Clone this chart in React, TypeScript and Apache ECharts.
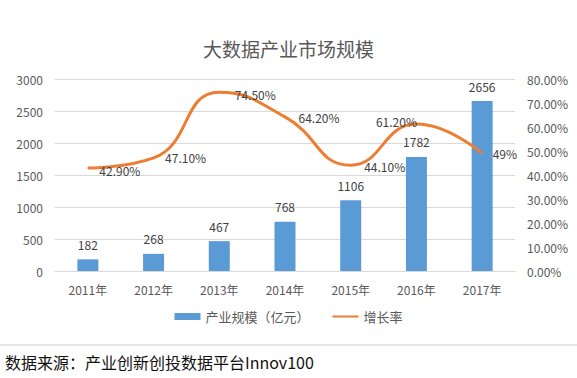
import React, { useEffect, useRef } from "react";
import * as echarts from "echarts";

const categories = ["2011年", "2012年", "2013年", "2014年", "2015年", "2016年", "2017年"];
const scaleValues = [182, 268, 467, 768, 1106, 1782, 2656];
const growthValues = [42.9, 47.1, 74.5, 64.2, 44.1, 61.2, 49];
const growthLabels = ["42.90%", "47.10%", "74.50%", "64.20%", "44.10%", "61.20%", "49%"];
const leftTicks = [0, 500, 1000, 1500, 2000, 2500, 3000];
const rightTicks = [0, 10, 20, 30, 40, 50, 60, 70, 80];

const FONT = '"Microsoft YaHei","Noto Sans CJK SC","Noto Sans",sans-serif';

export default function App() {
  const ref = useRef<HTMLDivElement>(null);
  useEffect(() => {
    if (!ref.current) return;
    const chart = echarts.init(ref.current, undefined, { renderer: "svg" });
    const labelPos: any[] = [
      [6, 2], [6, 0], [10, 2], [8, 1], [8, 1], [-46, -3], [5, 0],
    ];
    chart.setOption({
      animation: false,
      backgroundColor: "#ffffff",
      textStyle: { fontFamily: FONT },
      title: {
        text: "大数据产业市场规模",
        left: "center",
        top: 34,
        textStyle: { fontSize: 19, fontWeight: "normal", color: "#595959", fontFamily: FONT },
      },
      legend: {
        bottom: 50,
        left: "center",
        itemGap: 22,
        itemWidth: 26,
        itemHeight: 7,
        textStyle: { fontSize: 13, color: "#595959", fontFamily: FONT },
        data: [
          { name: "产业规模（亿元）", icon: "rect" },
          { name: "增长率", itemStyle: { opacity: 0 } },
        ],
      },
      grid: { left: 55, right: 62, top: 79, bottom: 107, containLabel: false },
      xAxis: {
        type: "category",
        data: categories,
        axisLine: { lineStyle: { color: "#d9d9d9" } },
        axisTick: { show: false },
        axisLabel: { color: "#595959", fontSize: 12, margin: 12, fontFamily: FONT },
      },
      yAxis: [
        {
          type: "value",
          min: leftTicks[0],
          max: leftTicks[leftTicks.length - 1],
          interval: 500,
          axisLine: { show: false },
          axisTick: { show: false },
          splitLine: { lineStyle: { color: "#d9d9d9" } },
          axisLabel: {
            color: "#595959",
            fontSize: 12,
            margin: 12,
            fontFamily: FONT,
            formatter: (v: number) => String(v),
          },
        },
        {
          type: "value",
          min: rightTicks[0],
          max: rightTicks[rightTicks.length - 1],
          interval: 10,
          axisLine: { show: false },
          axisTick: { show: false },
          splitLine: { show: false },
          axisLabel: {
            color: "#595959",
            fontSize: 12,
            margin: 12,
            fontFamily: FONT,
            formatter: (v: number) => v.toFixed(2) + "%",
          },
        },
      ],
      series: [
        {
          name: "产业规模（亿元）",
          type: "bar",
          data: scaleValues,
          barWidth: 21,
          itemStyle: { color: "#5B9BD5" },
          label: {
            show: true,
            position: "top",
            distance: 9,
            color: "#404040",
            fontSize: 12,
            fontFamily: FONT,
          },
        },
        {
          name: "增长率",
          type: "line",
          yAxisIndex: 1,
          smooth: 0.5,
          showSymbol: true,
          symbol: "circle",
          symbolSize: 1,
          lineStyle: { color: "#ED7D31", width: 3 },
          itemStyle: { color: "#ED7D31" },
          data: growthValues.map((v, i) => ({
            value: v,
            label: {
              show: true,
              position: "right",
              offset: labelPos[i],
              color: "#404040",
              fontSize: 12,
              fontFamily: FONT,
              formatter: () => growthLabels[i],
            },
          })),
        },
      ],
      graphic: [
        {
          type: "line",
          shape: { x1: 0, y1: 345, x2: 577, y2: 345 },
          style: { stroke: "#d0d0d0", lineWidth: 1 },
        },
        {
          type: "text",
          left: 5,
          top: 354,
          style: {
            text: "数据来源：产业创新创投数据平台Innov100",
            fontSize: 16,
            fill: "#111111",
            fontFamily: FONT,
          },
        },
      ],
    });
    return () => chart.dispose();
  }, []);
  return (
    <div
      ref={ref}
      style={{ position: "fixed", left: 0, top: 0, width: 577, height: 378 }}
    />
  );
}
